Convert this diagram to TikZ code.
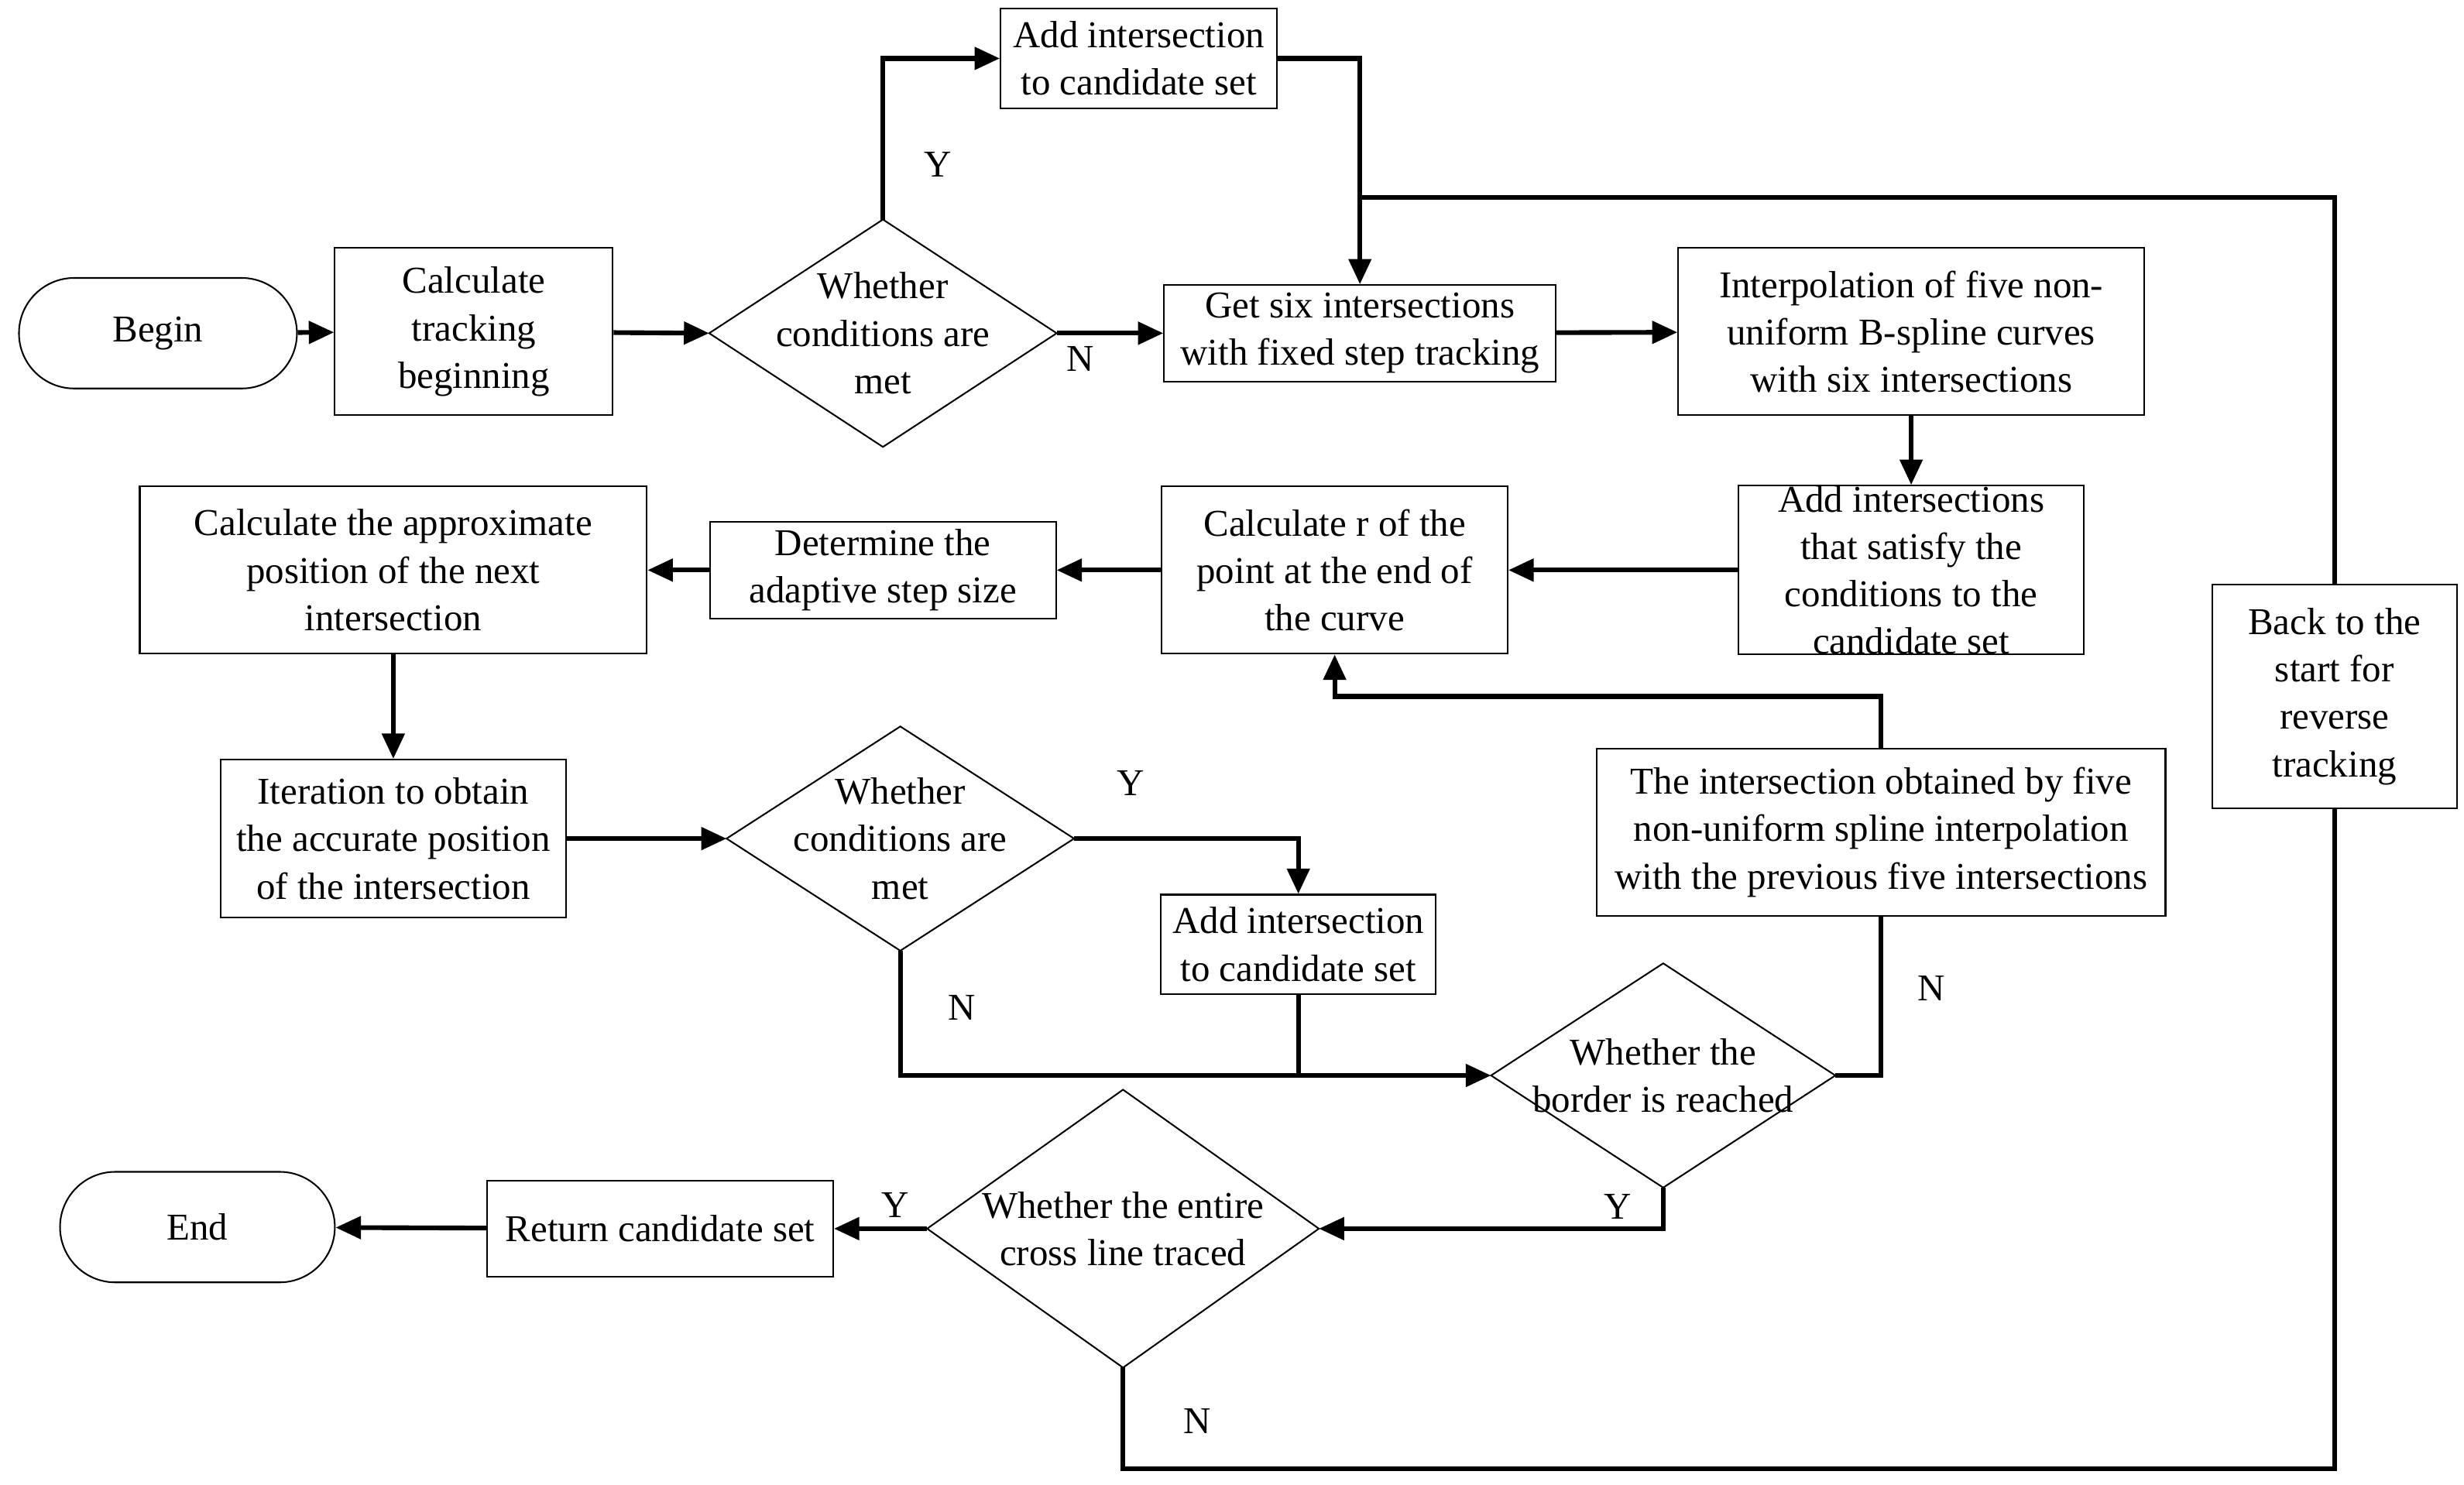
\documentclass[tikz,border=0pt]{standalone}
\usepackage{fontspec}
\setmainfont{Liberation Serif}
\usetikzlibrary{shapes.geometric,arrows.meta}
\newcommand\mydia[5]{% name, cx, cy, halfw, halfh
  \coordinate (#1-c) at (#2,#3);
  \coordinate (#1-w) at (#2-#4,#3);
  \coordinate (#1-e) at (#2+#4,#3);
  \coordinate (#1-n) at (#2,#3-#5);
  \coordinate (#1-s) at (#2,#3+#5);
  \draw[line width=0.5pt] (#1-w) -- (#1-n) -- (#1-e) -- (#1-s) -- cycle;}
\begin{document}
\begin{tikzpicture}[x=0.5pt,y=-0.5pt,font=\fontsize{12}{15}\selectfont,
  box/.style={draw,line width=0.5pt,align=center,inner sep=0pt},
  dt/.style={align=center,inner sep=0pt},
  term/.style={draw,rounded corners=17.5pt,line width=0.5pt,inner sep=0pt},
  ar/.style={line width=1.5pt,-{Triangle[length=8pt,width=7pt]}},
  ln/.style={line width=1.5pt},
  lab/.style={inner sep=0pt}]
\useasboundingbox (0,0) rectangle (1560,940);
\node[term,minimum width=88pt,minimum height=35pt] (begin) at (100,211) {Begin};
\node[box,minimum width=88pt,minimum height=53pt] (calc) at (300,210) {Calculate\\tracking\\beginning};
\mydia{d1}{559}{211}{110}{72}
\node[dt] (t1) at (d1-c) {Whether\\conditions are\\met};
\node[box,minimum width=87.5pt,minimum height=31.5pt] (add1) at (721,37) {Add intersection\\to candidate set};
\node[box,minimum width=124pt,minimum height=30.5pt] (get) at (861,211) {Get six intersections\\with fixed step tracking};
\node[box,minimum width=147.5pt,minimum height=53pt] (interp) at (1210,210) {Interpolation of five non-\\uniform B-spline curves\\with six intersections};
\node[box,minimum width=109.5pt,minimum height=53pt] (addint) at (1210,361) {Add intersections\\that satisfy the\\conditions to the\\candidate set};
\node[box,minimum width=109.5pt,minimum height=53pt] (calcr) at (845,361) {Calculate r of the\\point at the end of\\the curve};
\node[box,minimum width=109.5pt,minimum height=30.5pt] (det) at (559,361) {Determine the\\adaptive step size};
\node[box,minimum width=160.5pt,minimum height=53pt] (approx) at (249,361) {Calculate the approximate\\position of the next\\intersection};
\node[box,minimum width=109.5pt,minimum height=50pt] (iter) at (249,531) {Iteration to obtain\\the accurate position\\of the intersection};
\mydia{d2}{570}{531}{110}{71}
\node[dt] (t2) at (d2-c) {Whether\\conditions are\\met};
\node[box,minimum width=87pt,minimum height=31.5pt] (add2) at (822,598) {Add intersection\\to candidate set};
\node[box,minimum width=180pt,minimum height=53pt] (obt) at (1191,527) {The intersection obtained by five\\non-uniform spline interpolation\\with the previous five intersections};
\mydia{d3}{1053}{681}{109}{71}
\node[dt] (t3) at (d3-c) {Whether the\\border is reached};
\mydia{d4}{711}{778}{124}{88}
\node[dt] (t4) at (d4-c) {Whether the entire\\cross line traced};
\node[box,minimum width=109.5pt,minimum height=30.5pt] (ret) at (418,778) {Return candidate set};
\node[term,minimum width=87pt,minimum height=35pt] (end) at (125,777) {End};
\node[box,minimum width=77.5pt,minimum height=71pt] (back) at (1478,441) {Back to the\\start for\\reverse\\tracking};
\coordinate (j1) at (861,125);
\coordinate (j2) at (822,681);
\coordinate (j3) at (845,441);
\coordinate (j4) at (1478,930);
\draw[ar] (begin) -- (calc);
\draw[ar] (calc) -- (d1-w);
\draw[ar] (d1-n) |- (add1.west);
\draw[ar] (d1-e) -- (get.west);
\draw[ar] (add1.east) -| (get.north);
\draw[ln] (back.north) |- (j1);
\draw[ar] (get) -- (interp);
\draw[ar] (interp) -- (addint);
\draw[ar] (addint) -- (calcr);
\draw[ar] (calcr) -- (det);
\draw[ar] (det) -- (approx);
\draw[ar] (approx) -- (iter);
\draw[ar] (iter) -- (d2-w);
\draw[ar] (d2-e) -| (add2.north);
\draw[ar] (d2-s) |- (d3-w);
\draw[ln] (add2.south) -- (j2);
\draw[ln] (d3-e) -| (obt.south);
\draw[ar] (obt.north) |- (j3) -- (calcr.south);
\draw[ar] (d3-s) |- (d4-e);
\draw[ar] (d4-w) -- (ret.east);
\draw[ar] (ret) -- (end);
\draw[ln] (d4-s) |- (j4) -- (back.south);
\node[lab] at (594,104) {Y};
\node[lab] at (684,227) {N};
\node[lab] at (716,496) {Y};
\node[lab] at (609,638) {N};
\node[lab] at (1223,626) {N};
\node[lab] at (1024,764) {Y};
\node[lab] at (567,763) {Y};
\node[lab] at (758,900) {N};
\end{tikzpicture}
\end{document}
